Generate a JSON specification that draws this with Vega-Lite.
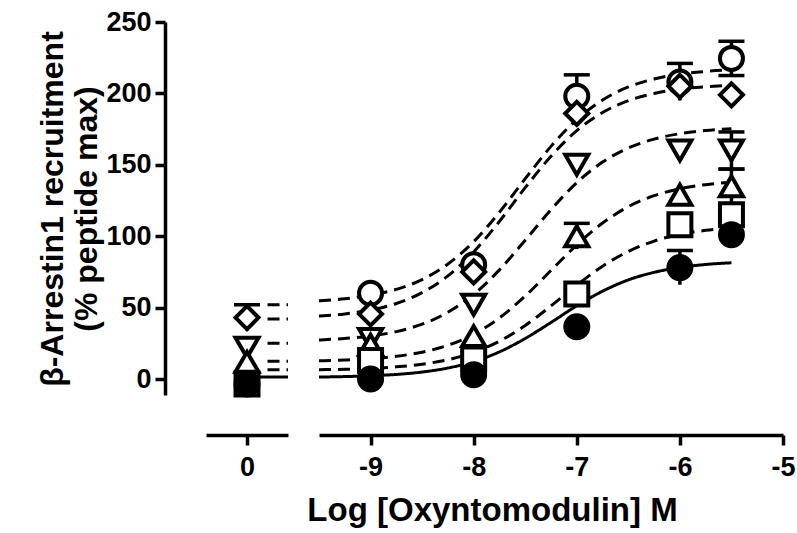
{
  "$schema": "https://vega.github.io/schema/vega-lite/v6.json",
  "background": "white",
  "padding": {"left": 36, "top": 8, "right": 5, "bottom": 5},
  "config": {
    "font": "Liberation Sans",
    "view": {"stroke": null},
    "axis": {
      "grid": false, "domainColor": "black", "domainWidth": 3.5, "tickColor": "black", "tickWidth": 3.5, "tickSize": 10,
      "labelColor": "black", "labelFont": "Liberation Sans", "labelFontWeight": "bold", "labelFontSize": 27, "labelFlush": false,
      "titleColor": "black", "titleFont": "Liberation Sans", "titleFontWeight": "bold"
    }
  },
  "datasets": {
    "curveL": [
      {"series": "A", "x": 0.5, "y": 52}, {"series": "A", "x": 1, "y": 52},
      {"series": "B", "x": 0.5, "y": 42}, {"series": "B", "x": 1, "y": 42},
      {"series": "C", "x": 0.5, "y": 25}, {"series": "C", "x": 1, "y": 25},
      {"series": "D", "x": 0.5, "y": 12.5}, {"series": "D", "x": 1, "y": 12.5},
      {"series": "E", "x": 0.5, "y": 6.5}, {"series": "E", "x": 1, "y": 6.5},
      {"series": "F", "x": 0.3, "y": 1.4}, {"series": "F", "x": 1, "y": 1.4}
    ],
    "curveR": [
      {"series": "A", "x": -9.5, "y": 54.8}, {"series": "A", "x": -9.25, "y": 56.2}, {"series": "A", "x": -9, "y": 58.7}, {"series": "A", "x": -8.75, "y": 62.8}, {"series": "A", "x": -8.5, "y": 69.6}, {"series": "A", "x": -8.25, "y": 80.5}, {"series": "A", "x": -8, "y": 96.2}, {"series": "A", "x": -7.75, "y": 116.8}, {"series": "A", "x": -7.5, "y": 140.3}, {"series": "A", "x": -7.25, "y": 162.9}, {"series": "A", "x": -7, "y": 181.7}, {"series": "A", "x": -6.75, "y": 195.4}, {"series": "A", "x": -6.5, "y": 204.5}, {"series": "A", "x": -6.25, "y": 210.1}, {"series": "A", "x": -6, "y": 213.5}, {"series": "A", "x": -5.75, "y": 215.4}, {"series": "A", "x": -5.5, "y": 216.5},
      {"series": "B", "x": -9.5, "y": 44.0}, {"series": "B", "x": -9.25, "y": 45.6}, {"series": "B", "x": -9, "y": 48.3}, {"series": "B", "x": -8.75, "y": 52.9}, {"series": "B", "x": -8.5, "y": 60.5}, {"series": "B", "x": -8.25, "y": 72.2}, {"series": "B", "x": -8, "y": 89.0}, {"series": "B", "x": -7.75, "y": 110.4}, {"series": "B", "x": -7.5, "y": 134.0}, {"series": "B", "x": -7.25, "y": 156.0}, {"series": "B", "x": -7, "y": 173.9}, {"series": "B", "x": -6.75, "y": 186.6}, {"series": "B", "x": -6.5, "y": 194.9}, {"series": "B", "x": -6.25, "y": 199.9}, {"series": "B", "x": -6, "y": 203.0}, {"series": "B", "x": -5.75, "y": 204.7}, {"series": "B", "x": -5.5, "y": 205.7},
      {"series": "C", "x": -9.5, "y": 27.3}, {"series": "C", "x": -9.25, "y": 28.4}, {"series": "C", "x": -9, "y": 30.1}, {"series": "C", "x": -8.75, "y": 33.2}, {"series": "C", "x": -8.5, "y": 38.4}, {"series": "C", "x": -8.25, "y": 46.7}, {"series": "C", "x": -8, "y": 59.2}, {"series": "C", "x": -7.75, "y": 76.4}, {"series": "C", "x": -7.5, "y": 97.2}, {"series": "C", "x": -7.25, "y": 118.6}, {"series": "C", "x": -7, "y": 137.5}, {"series": "C", "x": -6.75, "y": 151.9}, {"series": "C", "x": -6.5, "y": 161.8}, {"series": "C", "x": -6.25, "y": 168.0}, {"series": "C", "x": -6, "y": 171.8}, {"series": "C", "x": -5.75, "y": 174.0}, {"series": "C", "x": -5.5, "y": 175.3},
      {"series": "D", "x": -9.5, "y": 12.7}, {"series": "D", "x": -9.25, "y": 13.3}, {"series": "D", "x": -9, "y": 14.2}, {"series": "D", "x": -8.75, "y": 15.9}, {"series": "D", "x": -8.5, "y": 18.8}, {"series": "D", "x": -8.25, "y": 23.6}, {"series": "D", "x": -8, "y": 31.3}, {"series": "D", "x": -7.75, "y": 42.8}, {"series": "D", "x": -7.5, "y": 58.1}, {"series": "D", "x": -7.25, "y": 76.0}, {"series": "D", "x": -7, "y": 93.9}, {"series": "D", "x": -6.75, "y": 109.2}, {"series": "D", "x": -6.5, "y": 120.7}, {"series": "D", "x": -6.25, "y": 128.4}, {"series": "D", "x": -6, "y": 133.2}, {"series": "D", "x": -5.75, "y": 136.1}, {"series": "D", "x": -5.5, "y": 137.8},
      {"series": "E", "x": -9.5, "y": 6.5}, {"series": "E", "x": -9.25, "y": 6.8}, {"series": "E", "x": -9, "y": 7.4}, {"series": "E", "x": -8.75, "y": 8.5}, {"series": "E", "x": -8.5, "y": 10.4}, {"series": "E", "x": -8.25, "y": 13.5}, {"series": "E", "x": -8, "y": 18.6}, {"series": "E", "x": -7.75, "y": 26.5}, {"series": "E", "x": -7.5, "y": 37.5}, {"series": "E", "x": -7.25, "y": 51.2}, {"series": "E", "x": -7, "y": 65.7}, {"series": "E", "x": -6.75, "y": 79.0}, {"series": "E", "x": -6.5, "y": 89.3}, {"series": "E", "x": -6.25, "y": 96.6}, {"series": "E", "x": -6, "y": 101.3}, {"series": "E", "x": -5.75, "y": 104.1}, {"series": "E", "x": -5.5, "y": 105.8},
      {"series": "F", "x": -9.5, "y": 1.4}, {"series": "F", "x": -9.25, "y": 1.7}, {"series": "F", "x": -9, "y": 2.3}, {"series": "F", "x": -8.75, "y": 3.2}, {"series": "F", "x": -8.5, "y": 4.9}, {"series": "F", "x": -8.25, "y": 7.7}, {"series": "F", "x": -8, "y": 12.2}, {"series": "F", "x": -7.75, "y": 19.0}, {"series": "F", "x": -7.5, "y": 28.4}, {"series": "F", "x": -7.25, "y": 39.6}, {"series": "F", "x": -7, "y": 51.3}, {"series": "F", "x": -6.75, "y": 61.5}, {"series": "F", "x": -6.5, "y": 69.4}, {"series": "F", "x": -6.25, "y": 74.7}, {"series": "F", "x": -6, "y": 78.1}, {"series": "F", "x": -5.75, "y": 80.2}, {"series": "F", "x": -5.5, "y": 81.4}
    ],
    "errL": [
      {"series": "B", "x": 0, "y": 34, "y2": 52}
    ],
    "capL": [
      {"series": "B", "x": 0, "y": 52}
    ],
    "ptsL": [
      {"series": "B", "x": 0, "y": 43},
      {"series": "C", "x": 0, "y": 22},
      {"series": "D", "x": 0, "y": 12},
      {"series": "E", "x": 0, "y": -3.5},
      {"series": "F", "x": 0, "y": -3.5}
    ],
    "errR": [
      {"series": "A", "x": -7, "y": 183, "y2": 213},
      {"series": "A", "x": -6, "y": 195, "y2": 221},
      {"series": "A", "x": -5.5, "y": 212.5, "y2": 236.5},
      {"series": "C", "x": -5.5, "y": 147, "y2": 173},
      {"series": "D", "x": -7, "y": 91, "y2": 109},
      {"series": "D", "x": -5.5, "y": 123, "y2": 147},
      {"series": "F", "x": -6, "y": 66, "y2": 90}
    ],
    "capR": [
      {"series": "A", "x": -7, "y": 213},
      {"series": "A", "x": -6, "y": 221},
      {"series": "A", "x": -5.5, "y": 212.5}, {"series": "A", "x": -5.5, "y": 236.5},
      {"series": "C", "x": -5.5, "y": 147}, {"series": "C", "x": -5.5, "y": 173},
      {"series": "D", "x": -7, "y": 109},
      {"series": "D", "x": -5.5, "y": 147},
      {"series": "F", "x": -6, "y": 90}
    ],
    "ptsR": [
      {"series": "A", "x": -9, "y": 60}, {"series": "A", "x": -8, "y": 80}, {"series": "A", "x": -7, "y": 198}, {"series": "A", "x": -6, "y": 208}, {"series": "A", "x": -5.5, "y": 224.5},
      {"series": "B", "x": -9, "y": 45.5}, {"series": "B", "x": -8, "y": 75}, {"series": "B", "x": -7, "y": 186}, {"series": "B", "x": -6, "y": 205}, {"series": "B", "x": -5.5, "y": 199},
      {"series": "C", "x": -9, "y": 28}, {"series": "C", "x": -8, "y": 52}, {"series": "C", "x": -7, "y": 150}, {"series": "C", "x": -6, "y": 160}, {"series": "C", "x": -5.5, "y": 160},
      {"series": "D", "x": -9, "y": 24}, {"series": "D", "x": -8, "y": 30}, {"series": "D", "x": -7, "y": 100}, {"series": "D", "x": -6, "y": 129}, {"series": "D", "x": -5.5, "y": 135},
      {"series": "E", "x": -9, "y": 13}, {"series": "E", "x": -8, "y": 14}, {"series": "E", "x": -7, "y": 59.5}, {"series": "E", "x": -6, "y": 108}, {"series": "E", "x": -5.5, "y": 115},
      {"series": "F", "x": -9, "y": 0}, {"series": "F", "x": -8, "y": 3}, {"series": "F", "x": -7, "y": 36.6}, {"series": "F", "x": -6, "y": 78}, {"series": "F", "x": -5.5, "y": 101}
    ],
    "endL": [{"x": 1}],
    "endR": [{"x": -9.5}]
  },
  "spacing": 31,
  "bounds": "flush",
  "resolve": {"scale": {"x": "independent", "y": "independent"}},
  "hconcat": [
    {
      "width": 82,
      "height": 373,
      "encoding": {
        "x": {"field": "x", "type": "quantitative", "scale": {"domain": [-1, 1], "nice": false, "zero": false},
              "axis": {"values": [0], "offset": 40, "title": null, "labelPadding": 9, "labelExpr": "datum.value + ''"}},
        "y": {"field": "y", "type": "quantitative", "scale": {"domain": [-11.2, 250], "nice": false, "zero": false},
              "axis": {"values": [0, 50, 100, 150, 200, 250], "offset": 41, "labelPadding": 4, "labelExpr": "datum.value + ''",
                       "title": ["β-Arrestin1 recruitment", "(% peptide max)"], "titleFontSize": 32, "titlePadding": 2}}
      },
      "layer": [
        {
          "data": {"name": "curveL"},
          "mark": {"type": "line", "strokeWidth": 3, "color": "black", "interpolate": "monotone", "clip": false},
          "encoding": {
            "detail": {"field": "series"},
            "strokeDash": {"field": "series", "type": "nominal", "legend": null,
                           "scale": {"domain": ["A", "B", "C", "D", "E", "F"], "range": [[12, 7], [12, 7], [12, 7], [12, 7], [12, 7], [1, 0]]}}
          }
        },
        {
          "data": {"name": "endL"},
          "mark": {"type": "rule", "strokeWidth": 3.5, "color": "black", "opacity": 1, "clip": false},
          "encoding": {
            "y": {"datum": -33.6, "type": "quantitative"},
            "y2": {"datum": -44.8}
          }
        },
        {
          "data": {"name": "errL"},
          "mark": {"type": "rule", "strokeWidth": 3.5, "color": "black"},
          "encoding": {"y2": {"field": "y2"}}
        },
        {
          "data": {"name": "capL"},
          "mark": {"type": "tick", "orient": "horizontal", "size": 26, "thickness": 3.5, "color": "black", "opacity": 1},
          "encoding": {}
        },
        {
          "data": {"name": "ptsL"},
          "mark": {"type": "point", "size": 529, "strokeWidth": 4, "stroke": "black", "opacity": 1, "filled": true, "clip": false},
          "encoding": {
            "shape": {"field": "series", "type": "nominal", "legend": null,
                      "scale": {"domain": ["A", "B", "C", "D", "E", "F"], "range": ["circle", "diamond", "triangle-down", "triangle-up", "square", "circle"]}},
            "fill": {"field": "series", "type": "nominal", "legend": null,
                     "scale": {"domain": ["A", "B", "C", "D", "E", "F"], "range": ["white", "white", "white", "white", "white", "black"]}}
          }
        }
      ]
    },
    {
      "width": 464,
      "height": 373,
      "encoding": {
        "x": {"field": "x", "type": "quantitative", "scale": {"domain": [-9.5, -5], "nice": false, "zero": false},
              "axis": {"values": [-9, -8, -7, -6, -5], "offset": 40, "labelPadding": 9, "labelExpr": "datum.value + ''",
                       "title": "Log [Oxyntomodulin] M", "titleFontSize": 33, "titlePadding": 14, "titleX": 173, "titleAlign": "center"}},
        "y": {"field": "y", "type": "quantitative", "scale": {"domain": [-11.2, 250], "nice": false, "zero": false}, "axis": null}
      },
      "layer": [
        {
          "data": {"name": "curveR"},
          "mark": {"type": "line", "strokeWidth": 3, "color": "black", "interpolate": "monotone", "clip": false},
          "encoding": {
            "detail": {"field": "series"},
            "strokeDash": {"field": "series", "type": "nominal", "legend": null,
                           "scale": {"domain": ["A", "B", "C", "D", "E", "F"], "range": [[12, 7], [12, 7], [12, 7], [12, 7], [12, 7], [1, 0]]}}
          }
        },
        {
          "data": {"name": "endR"},
          "mark": {"type": "rule", "strokeWidth": 3.5, "color": "black", "opacity": 1, "clip": false},
          "encoding": {
            "y": {"datum": -33.6, "type": "quantitative"},
            "y2": {"datum": -44.8}
          }
        },
        {
          "data": {"name": "errR"},
          "mark": {"type": "rule", "strokeWidth": 3.5, "color": "black"},
          "encoding": {"y2": {"field": "y2"}}
        },
        {
          "data": {"name": "capR"},
          "mark": {"type": "tick", "orient": "horizontal", "size": 26, "thickness": 3.5, "color": "black", "opacity": 1},
          "encoding": {}
        },
        {
          "data": {"name": "ptsR"},
          "mark": {"type": "point", "size": 529, "strokeWidth": 4, "stroke": "black", "opacity": 1, "filled": true, "clip": false},
          "encoding": {
            "shape": {"field": "series", "type": "nominal", "legend": null,
                      "scale": {"domain": ["A", "B", "C", "D", "E", "F"], "range": ["circle", "diamond", "triangle-down", "triangle-up", "square", "circle"]}},
            "fill": {"field": "series", "type": "nominal", "legend": null,
                     "scale": {"domain": ["A", "B", "C", "D", "E", "F"], "range": ["white", "white", "white", "white", "white", "black"]}}
          }
        }
      ]
    }
  ]
}
